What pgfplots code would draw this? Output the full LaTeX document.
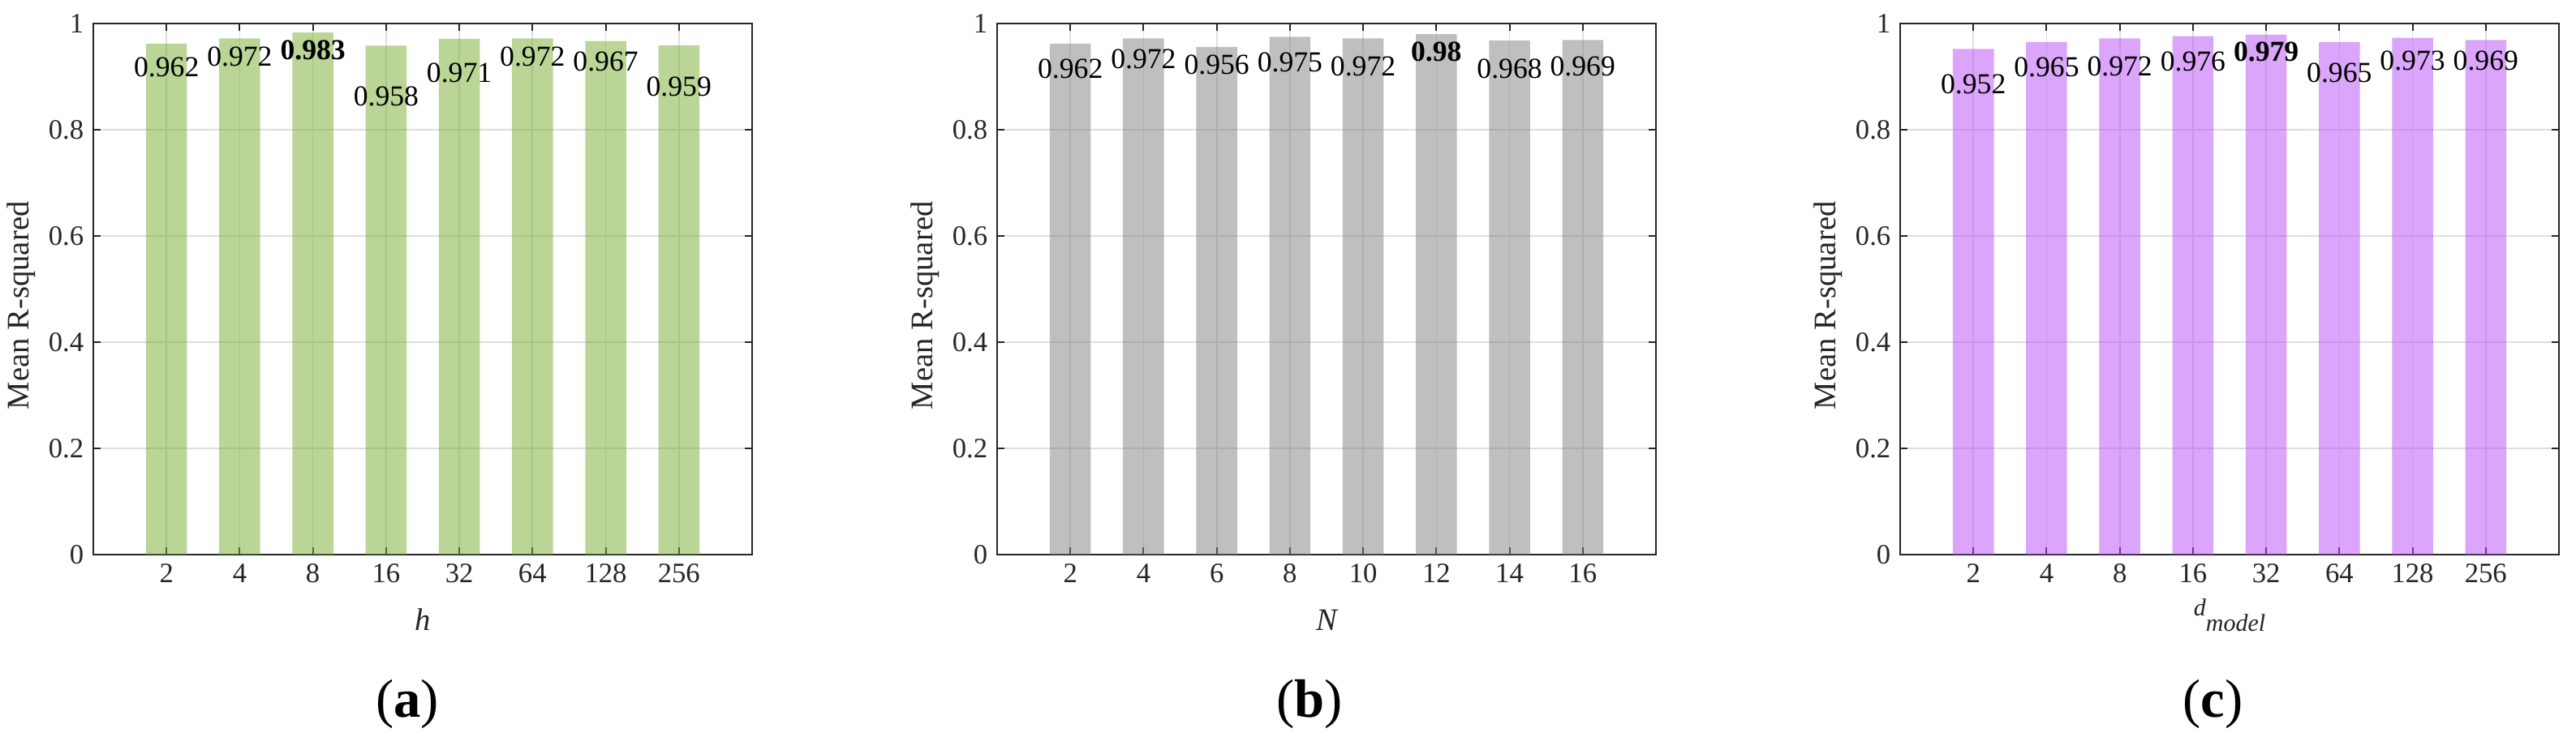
\documentclass[border=0pt]{standalone}
\usepackage{fontspec}
\setmainfont{Liberation Serif}
\usepackage{pgfplots}
\pgfplotsset{compat=1.18}
\definecolor{barA}{RGB}{119,172,48}
\definecolor{barB}{RGB}{128,128,128}
\definecolor{barC}{RGB}{181,75,245}
\definecolor{gridc}{RGB}{222,222,222}
\definecolor{axc}{RGB}{38,38,38}
\tikzset{subcap/.style={font=\fontsize{20}{24}\selectfont, anchor=center}}
\pgfplotsset{
  mypanel/.style={
    scale only axis, width=243.6pt, height=196.5pt,
    anchor=south west,
    xmin=0, xmax=9, ymin=0, ymax=1,
    xtick={1,2,3,4,5,6,7,8},
    ytick={0,0.2,0.4,0.6,0.8,1},
    yticklabels={0,0.2,0.4,0.6,0.8,1},
    tick align=inside,
    major tick length=2.7pt,
    grid=major,
    major grid style={draw=gridc, line width=0.5pt},
    axis line style={draw=axc, line width=0.6pt},
    tick style={draw=axc, line width=0.6pt},
    tick label style={font=\fontsize{10.4}{12}\selectfont, text=axc},
    /pgf/number format/assume math mode=true,
    ylabel={Mean R-squared},
    ylabel style={at={(axis description cs:-0.0985,0.469)}, anchor=base, font=\fontsize{11.6}{14}\selectfont, text=axc},
    xlabel style={at={(axis description cs:0.5,-0.142)}, anchor=base, font=\fontsize{11.6}{14}\selectfont\itshape, text=axc},
    clip=false,
  },
  myvals/.style={draw=none, nodes near coords, point meta=explicit symbolic,
    every node near coord/.append style={anchor=center, font=\fontsize{10.7}{12}\selectfont, text=black, inner sep=0pt}},
  mybars/.style={ybar, bar width=0.56, draw=none, fill=#1, fill opacity=0.5},
}
\begin{document}
\begin{tikzpicture}
\useasboundingbox (0,0) rectangle (952.5pt,277.5pt);
% ---------------- (a)
\begin{axis}[mypanel, at={(34.5pt,72.3pt)},
  xticklabels={2,4,8,16,32,64,128,256}, xlabel={h}]
\addplot[mybars=barA] coordinates {(1,0.962) (2,0.972) (3,0.983) (4,0.958) (5,0.971) (6,0.972) (7,0.967) (8,0.959)};
\addplot[myvals] coordinates {(1,0.9176)[0.962] (2,0.9374)[0.972] (3,0.9496)[\textbf{0.983}] (4,0.8626)[0.958] (5,0.9069)[0.971] (6,0.9374)[0.972] (7,0.9282)[0.967] (8,0.8809)[0.959]};
\node[subcap] at (axis description cs:0.4766,-0.281) {(\textbf{a})};
\end{axis}
% ---------------- (b)
\begin{axis}[mypanel, at={(368.7pt,72.3pt)},
  xticklabels={2,4,6,8,10,12,14,16}, xlabel={N}]
\addplot[mybars=barB] coordinates {(1,0.962) (2,0.972) (3,0.956) (4,0.975) (5,0.972) (6,0.980) (7,0.968) (8,0.969)};
\addplot[myvals] coordinates {(1,0.9145)[0.962] (2,0.9328)[0.972] (3,0.9221)[0.956] (4,0.9267)[0.975] (5,0.9191)[0.972] (6,0.9466)[\textbf{0.98}] (7,0.9145)[0.968] (8,0.9191)[0.969]};
\node[subcap] at (axis description cs:0.474,-0.281) {(\textbf{b})};
\end{axis}
% ---------------- (c)
\begin{axis}[mypanel, at={(702.6pt,72.3pt)},
  xticklabels={2,4,8,16,32,64,128,256},
  xlabel={d\raisebox{-5.7pt}{model}},
  xlabel style={at={(axis description cs:0.5,-0.116)}, font=\fontsize{9}{11}\selectfont\itshape}]
\addplot[mybars=barC] coordinates {(1,0.952) (2,0.965) (3,0.972) (4,0.976) (5,0.979) (6,0.965) (7,0.973) (8,0.969)};
\addplot[myvals] coordinates {(1,0.8855)[0.952] (2,0.9176)[0.965] (3,0.9191)[0.972] (4,0.9282)[0.976] (5,0.9466)[\textbf{0.979}] (6,0.9069)[0.965] (7,0.9298)[0.973] (8,0.9298)[0.969]};
\node[subcap] at (axis description cs:0.475,-0.281) {(\textbf{c})};
\end{axis}
\end{tikzpicture}
\end{document}
